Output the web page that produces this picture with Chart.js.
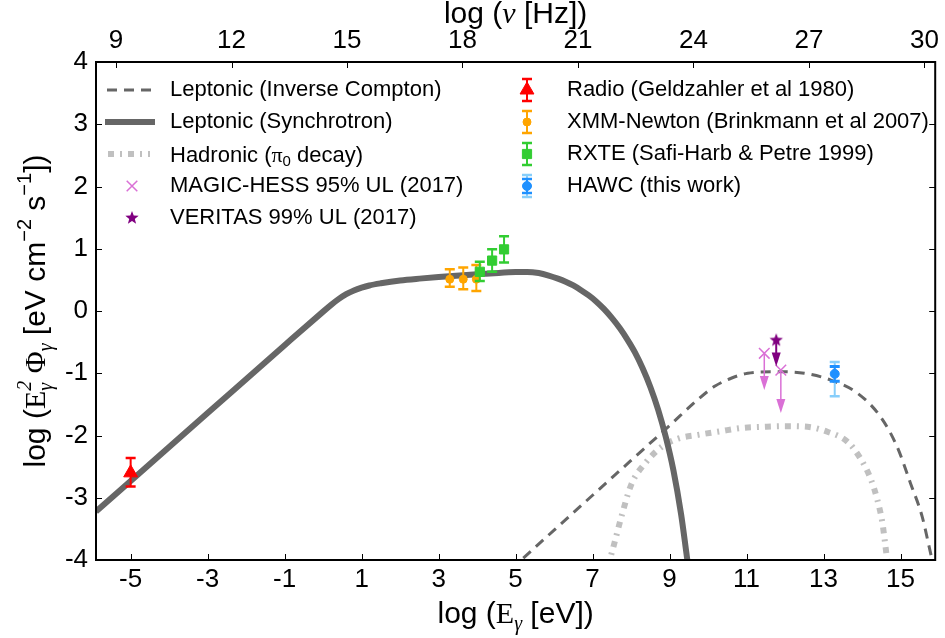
<!DOCTYPE html>
<html><head><meta charset="utf-8">
<script src="https://cdn.jsdelivr.net/npm/chart.js@4.4.1/dist/chart.umd.min.js"></script>
<style>html,body{margin:0;padding:0;background:#fff;}canvas{display:block;}</style>
</head><body>
<canvas id="c" width="945" height="638"></canvas>
<script>
// ---------------- data ----------------
const NU_OFFSET = 14.38; // log(nu[Hz]) = log(E[eV]) + 14.38
const xTicksE = [-5, -3, -1, 1, 3, 5, 7, 9, 11, 13, 15];
const xTicksNu = [9, 12, 15, 18, 21, 24, 27, 30];
const yTicks = [-4, -3, -2, -1, 0, 1, 2, 3, 4];

const synchE = [-5.9, -3, -1, 0, 0.2, 0.4, 0.6, 0.8, 1.0, 1.2, 1.5, 2.0, 2.5, 3.0, 4.0, 4.56, 5.0, 5.3, 5.6, 5.86, 6.1, 6.3, 6.5, 6.7, 6.9, 7.1, 7.3, 7.5, 7.7, 7.9, 8.1, 8.3, 8.5, 8.7, 8.9, 9.1, 9.3, 9.45, 9.55];
const synchF = [-3.22, -1.64, -0.55, -0.01, 0.095, 0.19, 0.27, 0.33, 0.375, 0.41, 0.445, 0.49, 0.52, 0.545, 0.59, 0.612, 0.625, 0.628, 0.61, 0.57, 0.52, 0.47, 0.41, 0.335, 0.25, 0.15, 0.03, -0.11, -0.27, -0.455, -0.665, -0.92, -1.22, -1.58, -2.02, -2.56, -3.27, -3.95, -4.4];

const icE = [5.2, 6, 7, 8, 9, 9.74, 10.17, 10.6, 11.03, 11.72, 12.5, 13.19, 13.88, 14.48, 14.91, 15.26, 15.56, 15.78, 15.86];
const icF = [-3.97, -3.52, -2.96, -2.40, -1.84, -1.42, -1.21, -1.08, -1.00, -0.975, -1.00, -1.11, -1.32, -1.70, -2.18, -2.77, -3.30, -3.89, -4.1];

const hadE = [7.40, 7.54, 7.75, 8.01, 8.36, 8.80, 9.22, 9.74, 10.34, 10.86, 11.46, 12.02, 12.58, 13.10, 13.62, 13.96, 14.22, 14.40, 14.53, 14.61, 14.67];
const hadF = [-4.1, -3.79, -3.30, -2.78, -2.45, -2.18, -2.05, -1.99, -1.93, -1.88, -1.86, -1.85, -1.86, -1.94, -2.10, -2.37, -2.69, -3.04, -3.41, -3.79, -4.1];

const radioE = [-5.0];
const radioF = [-2.6];
const radioLo = [-2.82];
const radioHi = [-2.36];

const xmmE = [3.29, 3.64, 3.98];
const xmmF = [0.51, 0.51, 0.51];
const xmmLo = [0.39, 0.35, 0.32];
const xmmHi = [0.67, 0.70, 0.74];

const rxteE = [4.07, 4.39, 4.70];
const rxteF = [0.63, 0.81, 0.99];
const rxteLo = [0.48, 0.63, 0.78];
const rxteHi = [0.79, 0.99, 1.20];

const hawcE = [13.29];
const hawcF = [-1.01];
const hawcStatLo = [-1.13];
const hawcStatHi = [-0.89];
const hawcSysLo = [-1.37];
const hawcSysHi = [-0.82];

const magicE = [11.46, 11.89];
const magicF = [-0.68, -0.95];
const magicTo = [-1.27, -1.64];

const veritasE = [11.77];
const veritasF = [-0.47];
const veritasTo = [-0.89];

const labels = {
  ic: 'Leptonic (Inverse Compton)',
  syn: 'Leptonic (Synchrotron)',
  had: 'Hadronic (π0 decay)',
  magic: 'MAGIC-HESS 95% UL (2017)',
  veritas: 'VERITAS 99% UL (2017)',
  radio: 'Radio (Geldzahler et al 1980)',
  xmm: 'XMM-Newton (Brinkmann et al 2007)',
  rxte: 'RXTE (Safi-Harb & Petre 1999)',
  hawc: 'HAWC (this work)'
};

// ---------------- styles ----------------
const SANS = '"Liberation Sans", Arial, Helvetica, sans-serif';
const SERIF = '"Liberation Serif", "DejaVu Serif", "Times New Roman", serif';
const C = {
  syn: '#666666', ic: '#666666', had: '#c0c0c0',
  radio: '#ff0000', xmm: '#ffa500', rxte: '#32cd32', hawc: '#1e90ff', hawcSys: '#87cefa',
  magic: '#da70d6', veritas: '#800080'
};
const HAD_DASH = [6, 6, 2, 6];
const IC_DASH = [10, 7];
const TF = 30; // axis title font size

function pts(xs, ys) { return xs.map((x, i) => ({x: x, y: ys[i]})); }

function makeStar(color, R) {
  const s = Math.ceil(R * 2 + 2);
  const cv = document.createElement('canvas');
  cv.width = s; cv.height = s;
  const g = cv.getContext('2d');
  g.fillStyle = color;
  g.beginPath();
  for (let i = 0; i < 10; i++) {
    const r = i % 2 === 0 ? R : R * 0.42;
    const a = -Math.PI / 2 + i * Math.PI / 5;
    const px = s / 2 + r * Math.cos(a), py = s / 2 + r * Math.sin(a);
    if (i === 0) g.moveTo(px, py); else g.lineTo(px, py);
  }
  g.closePath(); g.fill();
  return cv;
}
const starImg = makeStar(C.veritas, 7);

// ---------------- helpers ----------------
function errBar(ctx, x, yLo, yHi, color, lw, capHalf, capLw) {
  ctx.save();
  ctx.strokeStyle = color; ctx.lineWidth = lw; ctx.setLineDash([]);
  ctx.beginPath(); ctx.moveTo(x, yLo); ctx.lineTo(x, yHi); ctx.stroke();
  ctx.lineWidth = capLw;
  ctx.beginPath();
  ctx.moveTo(x - capHalf, yLo); ctx.lineTo(x + capHalf, yLo);
  ctx.moveTo(x - capHalf, yHi); ctx.lineTo(x + capHalf, yHi);
  ctx.stroke();
  ctx.restore();
}
function arrow(ctx, x, y1, yTip, color, lw) {
  ctx.save();
  ctx.strokeStyle = color; ctx.fillStyle = color; ctx.lineWidth = lw; ctx.setLineDash([]);
  ctx.beginPath(); ctx.moveTo(x, y1); ctx.lineTo(x, yTip - 12); ctx.stroke();
  ctx.beginPath(); ctx.moveTo(x - 4.5, yTip - 14); ctx.lineTo(x + 4.5, yTip - 14); ctx.lineTo(x, yTip); ctx.closePath(); ctx.fill();
  ctx.restore();
}
function richWidth(ctx, parts) {
  let w = 0;
  for (const p of parts) {
    ctx.font = p.f;
    if (p.stack) w += Math.max(ctx.measureText(p.sup).width, ctx.measureText(p.sub).width);
    else w += ctx.measureText(p.t).width;
  }
  return w;
}
function drawRich(ctx, parts, x, y, align) {
  const w = richWidth(ctx, parts);
  let cx = align === 'center' ? x - w / 2 : x;
  ctx.textAlign = 'left'; ctx.textBaseline = 'alphabetic'; ctx.fillStyle = '#000';
  for (const p of parts) {
    ctx.font = p.f;
    if (p.stack) {
      ctx.fillText(p.sup, cx, y + p.supDy);
      ctx.fillText(p.sub, cx, y + p.subDy);
      cx += Math.max(ctx.measureText(p.sup).width, ctx.measureText(p.sub).width);
    } else {
      ctx.fillText(p.t, cx, y + (p.dy || 0));
      cx += ctx.measureText(p.t).width;
    }
  }
}
function marker(ctx, style, r, fill, stroke, bw, x, y) {
  ctx.save();
  ctx.fillStyle = fill; ctx.strokeStyle = stroke; ctx.lineWidth = bw; ctx.setLineDash([]);
  Chart.helpers.drawPoint(ctx, {pointStyle: style, radius: r, rotation: 0, borderWidth: bw}, x, y);
  ctx.restore();
}

// ---------------- plugin: error bars, arrows, frame, ticks, titles, legend ----------------
const decor = {
  id: 'decor',
  beforeDatasetDraw(chart, args) {
    const ds = chart.data.datasets[args.index];
    const ctx = chart.ctx, xs = chart.scales.x, ys = chart.scales.y;
    if (ds.errLo) {
      ctx.save();
      const a = chart.chartArea;
      ctx.beginPath(); ctx.rect(a.left, a.top, a.right - a.left, a.bottom - a.top); ctx.clip();
      ds.data.forEach((p, i) => {
        const px = xs.getPixelForValue(p.x);
        if (ds.sysLo) errBar(ctx, px, ys.getPixelForValue(ds.sysLo[i]), ys.getPixelForValue(ds.sysHi[i]), C.hawcSys, 2, 5, 2.5);
        errBar(ctx, px, ys.getPixelForValue(ds.errLo[i]), ys.getPixelForValue(ds.errHi[i]), ds.borderColor, 2, 5, ds.sysLo ? 3 : 2.5);
      });
      ctx.restore();
    }
    if (ds.arrowTo) {
      ds.data.forEach((p, i) => {
        const px = xs.getPixelForValue(p.x);
        arrow(ctx, px, ys.getPixelForValue(p.y), ys.getPixelForValue(ds.arrowTo[i]), ds.arrowColor, ds.arrowLw);
      });
    }
  },
  afterDraw(chart) {
    const ctx = chart.ctx, a = chart.chartArea;
    const xs = chart.scales.x, x2 = chart.scales.x2, ys = chart.scales.y;
    ctx.save();
    // inward ticks
    ctx.strokeStyle = '#000'; ctx.lineWidth = 1; ctx.setLineDash([]);
    ctx.beginPath();
    xTicksE.forEach(v => { const p = Math.round(xs.getPixelForValue(v)) + 0.5; ctx.moveTo(p, a.bottom); ctx.lineTo(p, a.bottom - 6); });
    xTicksNu.forEach(v => { const p = Math.round(x2.getPixelForValue(v)) + 0.5; ctx.moveTo(p, a.top); ctx.lineTo(p, a.top + 6); });
    yTicks.forEach(v => { const p = Math.round(ys.getPixelForValue(v)) + 0.5; ctx.moveTo(a.left, p); ctx.lineTo(a.left + 6, p); ctx.moveTo(a.right, p); ctx.lineTo(a.right - 6, p); });
    ctx.stroke();
    // frame
    ctx.lineWidth = 2;
    ctx.strokeRect(a.left, a.top, a.right - a.left, a.bottom - a.top);

    // axis titles
    const cxm = (a.left + a.right) / 2;
    const SUB = Math.round(TF * 0.68);
    drawRich(ctx, [
      {t: 'log (', f: TF + 'px ' + SANS},
      {t: 'E', f: TF + 'px ' + SERIF},
      {t: 'γ', f: 'italic ' + SUB + 'px ' + SERIF, dy: 7},
      {t: ' [eV])', f: TF + 'px ' + SANS}
    ], cxm, 623, 'center');
    drawRich(ctx, [
      {t: 'log (', f: TF + 'px ' + SANS},
      {t: 'ν', f: 'italic ' + TF + 'px ' + SERIF},
      {t: ' [Hz])', f: TF + 'px ' + SANS}
    ], cxm, 23, 'center');
    ctx.save();
    ctx.translate(45, (a.top + a.bottom) / 2);
    ctx.rotate(-Math.PI / 2);
    drawRich(ctx, [
      {t: 'log (', f: TF + 'px ' + SANS},
      {t: 'E', f: TF + 'px ' + SERIF},
      {stack: true, sup: '2', sub: 'γ', f: 'italic ' + SUB + 'px ' + SERIF, supDy: -14, subDy: 7},
      {t: ' Φ', f: TF + 'px ' + SERIF},
      {t: 'γ', f: 'italic ' + SUB + 'px ' + SERIF, dy: 7},
      {t: ' [eV cm', f: TF + 'px ' + SANS},
      {t: '−2', f: SUB + 'px ' + SANS, dy: -14},
      {t: ' s', f: TF + 'px ' + SANS},
      {t: '−1', f: SUB + 'px ' + SANS, dy: -14},
      {t: '])', f: TF + 'px ' + SANS}
    ], 0, 0, 'center');
    ctx.restore();

    // legend
    const LF = '22px ' + SANS;
    const rows1 = [90, 122, 154, 186, 218];
    const rows2 = [90, 122, 154, 186];
    const tx1 = 170, tx2 = 567, mx1 = 130, mx2 = 527;
    ctx.lineCap = 'butt';
    ctx.strokeStyle = C.ic; ctx.lineWidth = 3; ctx.setLineDash(IC_DASH);
    ctx.beginPath(); ctx.moveTo(107, rows1[0]); ctx.lineTo(153, rows1[0]); ctx.stroke();
    ctx.strokeStyle = C.syn; ctx.lineWidth = 6; ctx.setLineDash([]);
    ctx.beginPath(); ctx.moveTo(105, rows1[1]); ctx.lineTo(155, rows1[1]); ctx.stroke();
    ctx.strokeStyle = C.had; ctx.lineWidth = 6; ctx.setLineDash(HAD_DASH);
    ctx.beginPath(); ctx.moveTo(108, rows1[2]); ctx.lineTo(150, rows1[2]); ctx.stroke();
    ctx.setLineDash([]);
    marker(ctx, 'crossRot', 7.5, C.magic, C.magic, 1.5, mx1 + 2, rows1[3]);
    ctx.drawImage(starImg, mx1 + 2 - starImg.width / 2, rows1[4] - starImg.height / 2);

    ctx.fillStyle = '#000'; ctx.font = LF; ctx.textBaseline = 'middle'; ctx.textAlign = 'left';
    ctx.fillText(labels.ic, tx1, rows1[0]);
    ctx.fillText(labels.syn, tx1, rows1[1]);
    drawRich(ctx, [
      {t: 'Hadronic (', f: LF},
      {t: 'π', f: '22px ' + SERIF},
      {t: '0', f: '15px ' + SANS, dy: 4},
      {t: ' decay)', f: LF}
    ], tx1, rows1[2] + 8, 'left');
    ctx.font = LF; ctx.textBaseline = 'middle';
    ctx.fillText(labels.magic, tx1, rows1[3]);
    ctx.fillText(labels.veritas, tx1, rows1[4]);

    errBar(ctx, mx2, rows2[0] + 11, rows2[0] - 11, C.radio, 2, 5, 2.5);
    marker(ctx, 'triangle', 8, C.radio, C.radio, 1, mx2, rows2[0]);
    errBar(ctx, mx2, rows2[1] + 11, rows2[1] - 11, C.xmm, 2, 5, 2.5);
    marker(ctx, 'circle', 4, C.xmm, C.xmm, 1, mx2, rows2[1]);
    errBar(ctx, mx2, rows2[2] + 11, rows2[2] - 11, C.rxte, 2, 5, 2.5);
    marker(ctx, 'rect', 6.5, C.rxte, C.rxte, 1, mx2, rows2[2]);
    errBar(ctx, mx2, rows2[3] + 11, rows2[3] - 11, C.hawcSys, 2, 5, 2.5);
    errBar(ctx, mx2, rows2[3] + 7, rows2[3] - 7, C.hawc, 2, 5, 2.5);
    marker(ctx, 'circle', 4.5, C.hawc, C.hawc, 1, mx2, rows2[3]);
    ctx.fillStyle = '#000'; ctx.font = LF; ctx.textBaseline = 'middle'; ctx.textAlign = 'left';
    ctx.fillText(labels.radio, tx2, rows2[0]);
    ctx.fillText(labels.xmm, tx2, rows2[1]);
    ctx.fillText(labels.rxte, tx2, rows2[2]);
    ctx.fillText(labels.hawc, tx2, rows2[3]);
    ctx.restore();
  }
};

// ---------------- chart ----------------
const tickFont = {family: SANS, size: 26};
const fmt = v => String(v);

new Chart(document.getElementById('c'), {
  type: 'scatter',
  data: {
    datasets: [
      {label: labels.rxte, data: pts(rxteE, rxteF), pointStyle: 'rect', pointRadius: 6.5, backgroundColor: C.rxte, borderColor: C.rxte, borderWidth: 1, errLo: rxteLo, errHi: rxteHi, order: 1},
      {label: labels.xmm, data: pts(xmmE, xmmF), pointStyle: 'circle', pointRadius: 4, backgroundColor: C.xmm, borderColor: C.xmm, borderWidth: 1, errLo: xmmLo, errHi: xmmHi, order: 2},
      {label: labels.radio, data: pts(radioE, radioF), pointStyle: 'triangle', pointRadius: 8, backgroundColor: C.radio, borderColor: C.radio, borderWidth: 1, errLo: radioLo, errHi: radioHi, order: 3},
      {label: labels.hawc, data: pts(hawcE, hawcF), pointStyle: 'circle', pointRadius: 4.5, backgroundColor: C.hawc, borderColor: C.hawc, borderWidth: 1, errLo: hawcStatLo, errHi: hawcStatHi, sysLo: hawcSysLo, sysHi: hawcSysHi, order: 4},
      {label: labels.veritas, data: pts(veritasE, veritasF), pointStyle: starImg, pointRadius: 7, backgroundColor: C.veritas, borderColor: C.veritas, arrowTo: veritasTo, arrowColor: C.veritas, arrowLw: 2, order: 5},
      {label: labels.magic, data: pts(magicE, magicF), pointStyle: 'crossRot', pointRadius: 7.5, backgroundColor: C.magic, borderColor: C.magic, borderWidth: 1.5, arrowTo: magicTo, arrowColor: C.magic, arrowLw: 1.5, order: 6},
      {label: labels.syn, data: pts(synchE, synchF), showLine: true, pointRadius: 0, borderColor: C.syn, borderWidth: 6, cubicInterpolationMode: 'monotone', clip: 0, order: 10},
      {label: labels.ic, data: pts(icE, icF), showLine: true, pointRadius: 0, borderColor: C.ic, borderWidth: 3, borderDash: IC_DASH, cubicInterpolationMode: 'monotone', clip: 0, order: 11},
      {label: labels.had, data: pts(hadE, hadF), showLine: true, pointRadius: 0, borderColor: C.had, borderWidth: 6, borderDash: HAD_DASH, cubicInterpolationMode: 'monotone', clip: 0, order: 12}
    ]
  },
  options: {
    responsive: false,
    animation: false,
    events: [],
    devicePixelRatio: 1,
    layout: {padding: {left: 0, right: 7, top: 0, bottom: 0}},
    plugins: {legend: {display: false}, tooltip: {enabled: false}, title: {display: false}},
    scales: {
      x: {
        type: 'linear', position: 'bottom', min: -5.9, max: 15.9,
        afterBuildTicks: s => { s.ticks = xTicksE.map(v => ({value: v})); },
        afterFit: s => { s.height = 78; },
        grid: {display: false, drawTicks: false}, border: {display: false},
        ticks: {font: tickFont, color: '#000', padding: 4, maxRotation: 0, autoSkip: false, callback: fmt}
      },
      x2: {
        type: 'linear', position: 'top', min: -5.9 + NU_OFFSET, max: 15.9 + NU_OFFSET,
        afterBuildTicks: s => { s.ticks = xTicksNu.map(v => ({value: v})); },
        afterFit: s => { s.height = 62; },
        grid: {display: false, drawTicks: false}, border: {display: false},
        ticks: {font: tickFont, color: '#000', padding: 6, maxRotation: 0, autoSkip: false, callback: fmt}
      },
      y: {
        type: 'linear', position: 'left', min: -4, max: 4,
        afterBuildTicks: s => { s.ticks = yTicks.map(v => ({value: v})); },
        afterFit: s => { s.width = 96; },
        grid: {display: false, drawTicks: false}, border: {display: false},
        ticks: {font: tickFont, color: '#000', padding: 8, autoSkip: false, callback: fmt}
      }
    }
  },
  plugins: [decor]
});
</script>
</body></html>
